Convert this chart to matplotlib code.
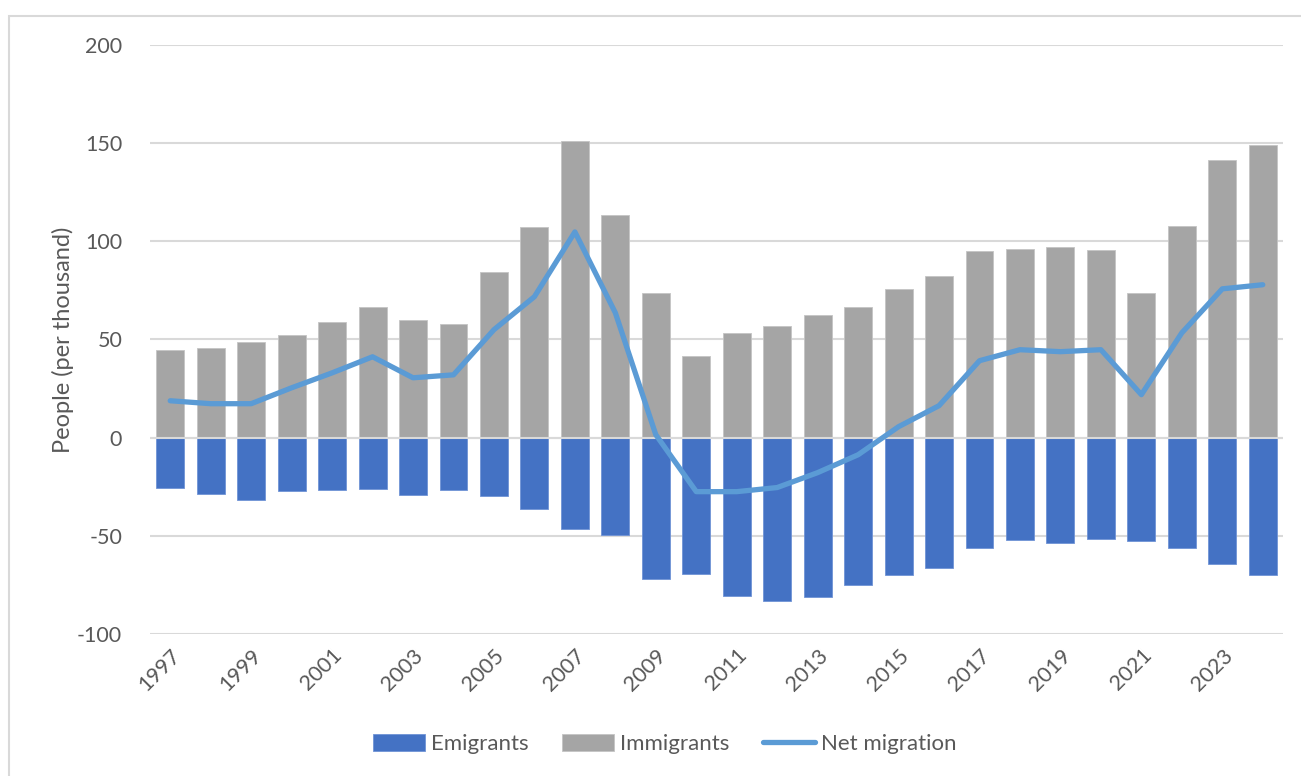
import matplotlib.pyplot as plt
from matplotlib.patches import Rectangle
import numpy as np

plt.rcParams['font.family'] = ['Lato', 'DejaVu Sans']

years = list(range(1997, 2025))
immigrants = [44.8, 45.8, 48.9, 52.4, 59.0, 66.7, 60.0, 58.0, 84.5, 107.4,
              151.0, 113.5, 73.8, 41.7, 53.4, 57.0, 62.6, 66.7, 75.8, 82.4,
              95.2, 96.2, 97.2, 95.7, 73.8, 107.9, 141.5, 149.0]
emigrants = [-25.4, -28.5, -31.6, -27.0, -26.5, -26.0, -29.0, -26.5, -29.5, -36.1,
             -46.3, -49.4, -71.8, -69.2, -80.4, -83.0, -81.4, -74.8, -70.2, -66.2,
             -56.0, -51.9, -53.4, -51.4, -52.4, -56.0, -64.1, -70.2]
net_migration = [18.8, 17.3, 17.3, 25.4, 33.0, 41.2, 30.5, 32.0, 55.0, 71.8,
                 104.8, 63.6, 1.5, -27.5, -27.5, -25.4, -17.8, -8.7, 5.6, 16.3,
                 39.2, 44.8, 43.8, 44.8, 21.9, 53.4, 75.8, 77.9]
y_ticks = [-100, -50, 0, 50, 100, 150, 200]

text_color = '#595959'
grid_color = '#D9D9D9'

fig = plt.figure(figsize=(13.01, 7.76), dpi=100)
fig.patches.append(Rectangle((9 / 1301, -0.1), 1.2, 1 - 15.5 / 776 + 0.1,
                             transform=fig.transFigure, fill=False,
                             edgecolor='#D9D9D9', linewidth=1.5))

ax = fig.add_axes([150 / 1301, 1 - 634 / 776, (1283 - 150) / 1301, (634 - 45) / 776])
x = np.arange(len(years))
width = 0.69

bars_em = ax.bar(x, emigrants, width, color='#4472C4', edgecolor='#6F93D6',
                 linewidth=0.6, label='Emigrants', zorder=2)
bars_im = ax.bar(x, immigrants, width, color='#A5A5A5', edgecolor='#C4C4C4',
                 linewidth=0.6, label='Immigrants', zorder=2)
ax.axhline(0, color=grid_color, linewidth=1.5, zorder=3)
line_net, = ax.plot(x, net_migration, color='#5B9BD5', linewidth=3.8,
                    solid_capstyle='round', solid_joinstyle='round',
                    label='Net migration', zorder=4)

ax.set_xlim(-0.5, len(years) - 0.5)
ax.set_ylim(-100, 200)
ax.set_yticks(y_ticks)
ax.set_yticklabels([str(v) for v in y_ticks])
ax.yaxis.grid(True, color=grid_color, linewidth=1.5, zorder=0)
ax.set_axisbelow(True)

ax.set_xticks(x[::2])
ax.set_xticklabels([str(y) for y in years[::2]], rotation=45, ha='right',
                   rotation_mode='anchor')
ax.tick_params(axis='both', length=0, labelsize=15.5, labelcolor=text_color)
ax.tick_params(axis='y', pad=20)
ax.tick_params(axis='x', pad=8)
for s in ax.spines.values():
    s.set_visible(False)

ax.set_ylabel('People (per thousand)', fontsize=17, color=text_color, labelpad=2)

fig.legend([bars_em, bars_im, line_net], ['Emigrants', 'Immigrants', 'Net migration'],
           loc='center', bbox_to_anchor=(0.511, 1 - 744 / 776), ncol=3,
           frameon=False, fontsize=16, labelcolor=text_color,
           handlelength=2.35, handleheight=0.77, columnspacing=1.5,
           handletextpad=0.27)

fig.savefig('out.png', dpi=100)
